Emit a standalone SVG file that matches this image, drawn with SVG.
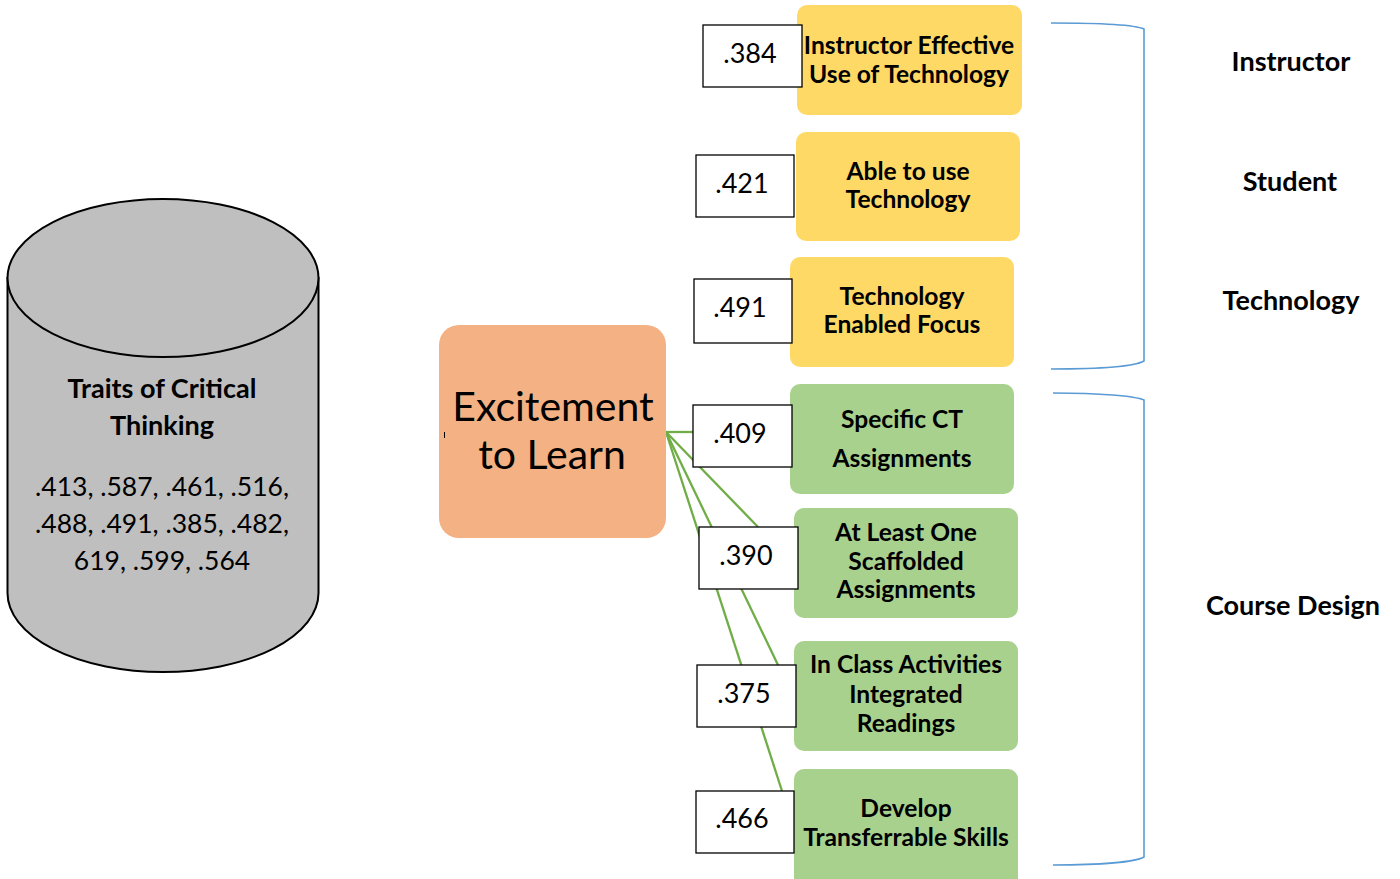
<svg xmlns="http://www.w3.org/2000/svg" width="1400" height="879" viewBox="0 0 1400 879">
<style>
  text { font-family: Lato, "Open Sans", "Liberation Sans", sans-serif; fill: #000; text-anchor: middle; }
  .b { font-weight: bold; font-size: 24.6px; }
  .lab { font-weight: bold; font-size: 27px; }
  .val { font-size: 27px; }
  .num { font-size: 26.5px; }
  .big { font-size: 41px; }
  .yel { fill: #FFD966; }
  .grn { fill: #A9D18E; }
  .vbox { fill: #FFFFFF; stroke: #000; stroke-width: 1.3; }
  .conn { stroke: #70AD47; stroke-width: 2.3; fill: none; }
  .brace { stroke: #5B9BD5; stroke-width: 1.6; fill: none; }
</style>
<rect width="1400" height="879" fill="#FFFFFF"/>

<g id="cylinder">
  <path d="M7.5,278 L7.5,593 A155.5,79 0 0,0 318.5,593 L318.5,278 Z" fill="#BFBFBF" stroke="#000" stroke-width="2"/>
  <ellipse cx="163" cy="278" rx="155.5" ry="79" fill="#BFBFBF" stroke="#000" stroke-width="2"/>
  <text class="lab" x="162" y="398">Traits of Critical</text>
  <text class="lab" x="162" y="435">Thinking</text>
  <text class="num" x="162" y="496">.413, .587, .461, .516,</text>
  <text class="num" x="162" y="533">.488, .491, .385, .482,</text>
  <text class="num" x="162" y="570">619, .599, .564</text>
</g>

<g id="connectors">
  <line class="conn" x1="666" y1="432" x2="694" y2="432" stroke-width="3"/>
  <line class="conn" x1="666" y1="432" x2="758" y2="527"/>
  <line class="conn" x1="666" y1="432" x2="778" y2="665"/>
  <line class="conn" x1="666" y1="432" x2="782" y2="791"/>
</g>

<g id="excitement">
  <rect x="439" y="325" width="227" height="213" rx="20" ry="20" fill="#F4B183"/>
  <text class="big" x="553" y="421">Excitement</text>
  <text class="big" x="552" y="469">to Learn</text>
  <line x1="444.5" y1="432" x2="444.5" y2="438" stroke="#000" stroke-width="1"/>
</g>

<g id="instructor-tech">
  <rect class="yel" x="797" y="5" width="225" height="110" rx="10"/>
  <text class="b" x="909" y="54">Instructor Effective</text>
  <text class="b" x="909" y="83">Use of Technology</text>
</g>
<g id="able-tech">
  <rect class="yel" x="796" y="132" width="224" height="109" rx="10"/>
  <text class="b" x="908" y="180">Able to use</text>
  <text class="b" x="908" y="208">Technology</text>
</g>
<g id="tech-focus">
  <rect class="yel" x="790" y="257" width="224" height="110" rx="10"/>
  <text class="b" x="902" y="305">Technology</text>
  <text class="b" x="902" y="333">Enabled Focus</text>
</g>
<g id="specific-ct">
  <rect class="grn" x="790" y="384" width="224" height="110" rx="10"/>
  <text class="b" x="902" y="428">Specific CT</text>
  <text class="b" x="902" y="467">Assignments</text>
</g>
<g id="scaffolded">
  <rect class="grn" x="794" y="508" width="224" height="110" rx="10"/>
  <text class="b" x="906" y="541">At Least One</text>
  <text class="b" x="906" y="570">Scaffolded</text>
  <text class="b" x="906" y="598">Assignments</text>
</g>
<g id="in-class">
  <rect class="grn" x="794" y="641" width="224" height="110" rx="10"/>
  <text class="b" x="906" y="673">In Class Activities</text>
  <text class="b" x="906" y="703">Integrated</text>
  <text class="b" x="906" y="732">Readings</text>
</g>
<g id="transferrable">
  <rect class="grn" x="794" y="769" width="224" height="120" rx="10"/>
  <text class="b" x="906" y="817">Develop</text>
  <text class="b" x="906" y="846">Transferrable Skills</text>
</g>

<g id="v384"><rect class="vbox" x="703" y="25" width="99" height="62"/><text class="val" x="750" y="63">.384</text></g>
<g id="v421"><rect class="vbox" x="696" y="155" width="98" height="62"/><text class="val" x="742" y="193">.421</text></g>
<g id="v491"><rect class="vbox" x="694" y="279" width="98" height="64"/><text class="val" x="740" y="317">.491</text></g>
<g id="v409"><rect class="vbox" x="693" y="405" width="99" height="62"/><text class="val" x="740" y="443">.409</text></g>
<g id="v390"><rect class="vbox" x="699" y="527" width="99" height="62"/><text class="val" x="746" y="565">.390</text></g>
<g id="v375"><rect class="vbox" x="697" y="665" width="99" height="62"/><text class="val" x="744" y="703">.375</text></g>
<g id="v466"><rect class="vbox" x="696" y="791" width="98" height="62"/><text class="val" x="742" y="828">.466</text></g>

<g id="braces">
  <path class="brace" d="M1051,23 C1100,23 1135,25 1144,29 L1144,361 C1135,366 1100,369 1051,369"/>
  <path class="brace" d="M1053,393 C1100,393 1135,396 1144,400 L1144,857 C1135,862 1100,865 1053,865"/>
</g>

<g id="labels">
  <text class="lab" x="1291" y="71">Instructor</text>
  <text class="lab" x="1290" y="191">Student</text>
  <text class="lab" x="1291" y="310">Technology</text>
  <text class="lab" x="1293" y="615">Course Design</text>
</g>
</svg>
